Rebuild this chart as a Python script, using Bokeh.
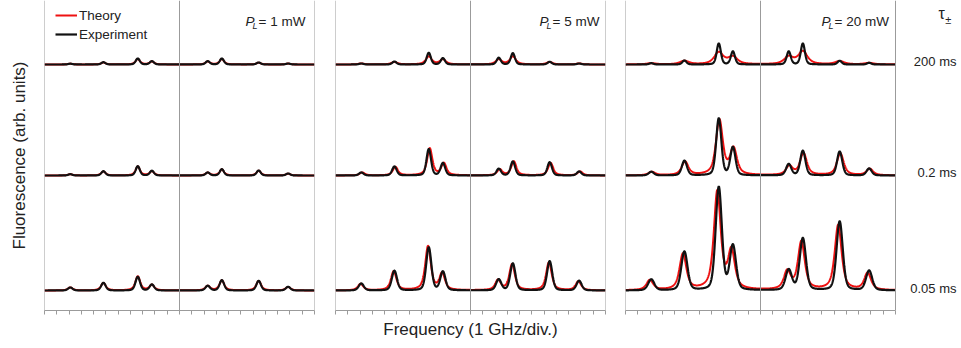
import numpy as np
from bokeh.plotting import figure
from bokeh.layouts import row
from bokeh.models import Range1d, Span, Label, Legend, LegendItem, FixedTicker
from bokeh.embed import file_html
from bokeh.resources import INLINE

# ---------------- data ----------------
powers = ["1 mW", "5 mW", "20 mW"]
taus = ["200 ms", "0.2 ms", "0.05 ms"]
peak_pos = [2.1, 4.8, 7.6, 8.75, 13.3, 14.45, 17.45, 19.85]   # GHz (divisions)

# peak heights (arb. units), rows: 200 ms, 0.2 ms, 0.05 ms
exp_1mW = [[0.8, 2.3, 6.0, 3.3, 3.3, 6.0, 2.0, 1.0],
           [1.3, 4.3, 9.3, 4.7, 3.0, 6.3, 5.0, 2.0],
           [3.0, 7.7, 13.7, 6.0, 4.7, 10.3, 9.7, 3.7]]
thy_1mW = [[0.8, 2.0, 5.5, 3.0, 3.0, 5.5, 1.8, 0.9],
           [1.3, 4.0, 9.0, 4.2, 2.8, 6.0, 4.8, 1.8],
           [3.0, 7.5, 14.0, 5.5, 4.5, 10.0, 9.5, 3.5]]
exp_5mW = [[1.0, 3.0, 11.7, 6.3, 6.7, 11.3, 2.7, 1.0],
           [3.0, 9.0, 26.3, 12.3, 6.7, 14.0, 13.3, 4.0],
           [7.0, 19.7, 43.0, 18.7, 11.0, 27.0, 29.3, 9.7]]
thy_5mW = [[1.0, 2.5, 8.0, 5.0, 5.0, 8.0, 2.4, 1.0],
           [3.0, 8.5, 27.0, 12.0, 6.0, 14.0, 12.5, 4.0],
           [6.5, 19.0, 44.0, 16.5, 10.0, 26.0, 28.0, 9.0]]
exp_20mW = [[1.3, 4.0, 21.0, 13.0, 13.0, 21.0, 3.7, 1.7],
            [3.7, 14.7, 57.0, 28.0, 11.3, 24.7, 24.0, 7.0],
            [11.0, 38.7, 103.0, 44.3, 20.3, 52.0, 69.0, 19.7]]
thy_20mW = [[1.2, 3.5, 12.0, 7.5, 7.5, 13.0, 3.2, 1.5],
            [3.5, 13.5, 55.0, 26.0, 9.0, 22.0, 22.0, 6.5],
            [10.0, 36.0, 98.0, 38.0, 18.0, 48.0, 65.0, 17.0]]

# line half-widths (GHz) per power, per row
exp_hwhm = [[0.20, 0.20, 0.22], [0.20, 0.22, 0.25], [0.20, 0.25, 0.30]]
thy_hwhm = [[0.22, 0.22, 0.24], [0.30, 0.25, 0.27], [0.45, 0.33, 0.33]]
thy_shift = [[0.0, 0.0, 0.0], [0.0, 0.08, -0.06], [0.0, 0.05, -0.12]]

exp_all = [exp_1mW, exp_5mW, exp_20mW]
thy_all = [thy_1mW, thy_5mW, thy_20mW]

# ---------------- layout / style ----------------
row_offsets = [246, 135, 20]
GRAY = "#9b9b9b"
RED = "#ee1111"
BLACK = "#111111"
TXT = "#222222"
FONT = "Liberation Sans"

x = np.linspace(0, 22, 1321)


def profile(h, hw, eta, shift):
    y = np.zeros_like(x)
    for hi, xi in zip(h, peak_pos):
        d = (x - xi - shift) / hw
        y += hi * (eta / (1 + d * d) + (1 - eta) * np.exp(-np.log(2) * d * d))
    return y


widths = [324, 291, 346]
borders = [(44, 10), (11, 10), (10, 0)]
x_ends = [22, 22, 22 * 336 / 270]
p_label_x = [16.38, 16.63, 15.97]

figs = []
for i in range(3):
    bl, br = borders[i]
    p = figure(width=widths[i], height=348, x_range=Range1d(0, x_ends[i]), y_range=Range1d(0, 310),
               output_backend="svg", toolbar_location=None,
               min_border_left=bl, min_border_right=br, min_border_top=0, min_border_bottom=38)
    p.grid.visible = False
    p.outline_line_color = None
    p.background_fill_color = "white"
    p.border_fill_color = "white"

    for loc in (0, 11, 22):
        p.add_layout(Span(location=loc, dimension="height", line_color=GRAY, line_width=1))

    xa = p.xaxis[0]
    xa.ticker = FixedTicker(ticks=list(range(23)))
    xa.bounds = (0, 22)
    xa.axis_line_color = GRAY
    xa.major_tick_line_color = GRAY
    xa.minor_tick_line_color = None
    xa.major_tick_in = 0
    xa.major_tick_out = 4
    xa.major_label_overrides = {k: "" for k in range(23)}
    xa.major_label_text_font_size = "1px"
    xa.major_label_standoff = 0
    if i == 1:
        xa.axis_label = "Frequency (1 GHz/div.)"
        xa.axis_label_text_font = FONT
        xa.axis_label_text_font_size = "17px"
        xa.axis_label_text_font_style = "normal"
        xa.axis_label_text_color = TXT
        xa.axis_label_standoff = 5

    ya = p.yaxis[0]
    if i == 0:
        ya.ticker = FixedTicker(ticks=[])
        ya.axis_line_color = None
        ya.major_tick_line_color = None
        ya.minor_tick_line_color = None
        ya.major_label_standoff = 0
        ya.axis_label = "Fluorescence (arb. units)"
        ya.axis_label_text_font = FONT
        ya.axis_label_text_font_size = "17px"
        ya.axis_label_text_font_style = "normal"
        ya.axis_label_text_color = TXT
        ya.axis_label_standoff = 16
    else:
        ya.visible = False

    rr = None
    for r in range(3):
        yt = profile(thy_all[i][r], thy_hwhm[i][r], 0.7, thy_shift[i][r]) + row_offsets[r]
        ye = profile(exp_all[i][r], exp_hwhm[i][r], 0.3, 0.0) + row_offsets[r]
        lt = p.line(x, yt, line_color=RED, line_width=2.0)
        le = p.line(x, ye, line_color=BLACK, line_width=2.2)
        if rr is None:
            rr = (lt, le)
    if i == 0:
        legend = Legend(items=[LegendItem(label="Theory", renderers=[rr[0]]),
                               LegendItem(label="Experiment", renderers=[rr[1]])],
                        location=(11, 268), padding=0, margin=0, spacing=3,
                        glyph_width=22, glyph_height=16, label_height=16, label_standoff=2,
                        label_text_font=FONT, label_text_font_size="13.5px",
                        label_text_color=TXT,
                        border_line_color=None, background_fill_alpha=0)
        p.add_layout(legend)

    # P_L labels
    px = p_label_x[i]
    p.add_layout(Label(x=px, y=289, text="P", text_font=FONT, text_font_size="13.5px",
                       text_font_style="italic", text_color=TXT, text_baseline="alphabetic"))
    p.add_layout(Label(x=px, y=285, x_offset=7, text="L", text_font=FONT, text_font_size="9px",
                       text_font_style="italic", text_color=TXT, text_baseline="alphabetic"))
    p.add_layout(Label(x=px, y=289, x_offset=13, text="= " + powers[i], text_font=FONT,
                       text_font_size="13.5px", text_color=TXT, text_baseline="alphabetic"))

    if i == 2:
        p.add_layout(Label(x=25.5, y=297, text="τ", text_font=FONT, text_font_size="16px",
                           text_color=TXT, text_baseline="middle"))
        p.add_layout(Label(x=26.05, y=291, text="±", text_font=FONT, text_font_size="11px",
                           text_color=TXT, text_baseline="middle"))
        for r in range(3):
            p.add_layout(Label(x=26.97, y=row_offsets[r] + [3, 3, 2][r], text=taus[r], text_font=FONT,
                               text_font_size="13px", text_color=TXT,
                               text_align="right", text_baseline="middle"))
    figs.append(p)

layout = row(*figs)
open("out.html", "w").write(file_html(layout, INLINE))
